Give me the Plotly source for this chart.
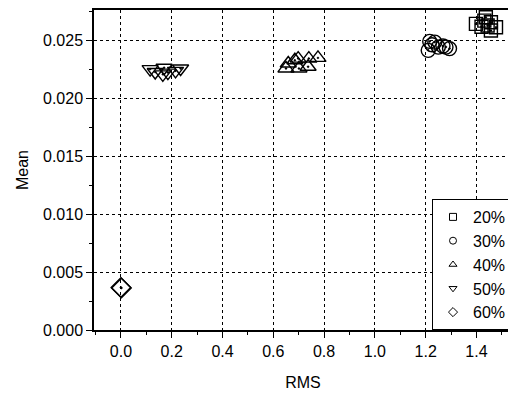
import plotly.graph_objects as go

# Data
labels = ["20%", "30%", "40%", "50%", "60%"]

rms_20 = [1.398, 1.431, 1.457, 1.477, 1.457, 1.444, 1.437, 1.420]
mean_20 = [0.02640, 0.02668, 0.02654, 0.02611, 0.02583, 0.02626, 0.02697, 0.02615]

rms_30 = [1.216, 1.250, 1.294, 1.210, 1.236, 1.268, 1.225, 1.280]
mean_30 = [0.02489, 0.02440, 0.02427, 0.02412, 0.02483, 0.02450, 0.02460, 0.02440]

rms_40 = [0.659, 0.685, 0.698, 0.740, 0.776, 0.737, 0.650, 0.701]
mean_40 = [0.02299, 0.02327, 0.02341, 0.02341, 0.02347, 0.02271, 0.02256, 0.02256]

rms_50 = [0.115, 0.135, 0.165, 0.185, 0.215, 0.235, 0.170]
mean_50 = [0.02250, 0.02225, 0.02205, 0.02220, 0.02235, 0.02255, 0.02262]

rms_60 = [0.0, 0.002]
mean_60 = [0.00366, 0.00362]

x_ticks = [0.0, 0.2, 0.4, 0.6, 0.8, 1.0, 1.2, 1.4]
y_ticks = [0.000, 0.005, 0.010, 0.015, 0.020, 0.025]

series = [
    (rms_20, mean_20, "square-open-dot", 13),
    (rms_30, mean_30, "circle-open-dot", 14),
    (rms_40, mean_40, "triangle-up-open-dot", 14),
    (rms_50, mean_50, "triangle-down-open-dot", 14),
    (rms_60, mean_60, "diamond-open-dot", 15),
]

fig = go.Figure()
for (xs, ys, sym, sz), lab in zip(series, labels):
    fig.add_trace(go.Scatter(
        x=xs, y=ys, mode="markers", showlegend=False,
        marker=dict(symbol=sym, size=sz, color="black", line=dict(width=1.4, color="black")),
    ))
legend_syms = ["square-open", "circle-open", "triangle-up-open", "triangle-down-open", "diamond-open"]
for sym, lab in zip(legend_syms, labels):
    fig.add_trace(go.Scatter(
        x=[None], y=[None], mode="markers", name=lab,
        marker=dict(symbol=sym, size=7, color="black", line=dict(width=1, color="black")),
    ))

font = "Liberation Sans, Arial, Helvetica, sans-serif"
# page body has an 8px margin, so the figure is sized to fit inside the window
fig.update_layout(
    width=506, height=384,
    margin=dict(l=86, r=0, t=1, b=62),
    paper_bgcolor="white", plot_bgcolor="white",
    font=dict(family=font, size=16, color="black"),
    legend=dict(
        x=1, y=0, xanchor="right", yanchor="bottom",
        bordercolor="black", borderwidth=1, bgcolor="white",
        font=dict(size=16), itemwidth=30, tracegroupgap=0,
    ),
    xaxis=dict(
        range=[-0.106, 1.54], tickvals=x_ticks, ticktext=[f"{v:.1f}" for v in x_ticks],
        showgrid=True, gridcolor="black", griddash="dot", gridwidth=1,
        showline=True, linecolor="black", linewidth=1.5, mirror=True,
        ticks="outside", ticklen=6, tickcolor="black",
        minor=dict(dtick=0.1, tick0=0, ticks="outside", ticklen=3, tickcolor="black", showgrid=False),
        zeroline=False,
        title=dict(text="RMS", font=dict(size=16), standoff=18),
        tickfont=dict(size=16),
    ),
    yaxis=dict(
        range=[0, 0.0276], tickvals=y_ticks, ticktext=[f"{v:.3f}" for v in y_ticks],
        showgrid=True, gridcolor="black", griddash="dot", gridwidth=1,
        showline=True, linecolor="black", linewidth=1.5, mirror=True,
        ticks="outside", ticklen=6, tickcolor="black",
        minor=dict(dtick=0.0025, tick0=0, ticks="outside", ticklen=3, tickcolor="black", showgrid=False),
        zeroline=False,
        title=dict(text="Mean", font=dict(size=16), standoff=10),
        tickfont=dict(size=16),
    ),
)

fig.write_html("out.html")
